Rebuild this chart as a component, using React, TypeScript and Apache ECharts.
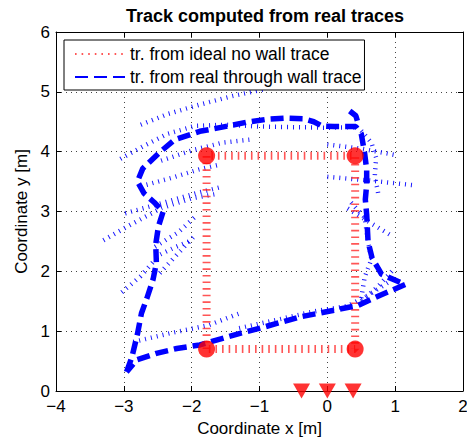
import React, { useEffect, useRef } from 'react';
import * as echarts from 'echarts';

const chartTitle = 'Track computed from real traces';
const xAxisName = 'Coordinate x [m]';
const yAxisName = 'Coordinate y [m]';
const idealName = 'tr. from ideal no wall trace';
const realName = 'tr. from real through wall trace';

const xRange = [-4, 2];
const yRange = [0, 6];

const idealTrack = [[-1.78, 0.7], [-1.78, 3.93], [0.41, 3.93], [0.41, 0.7], [-1.78, 0.7]];
const idealCorners = [[-1.78, 3.93], [0.41, 3.93], [-1.78, 0.7], [0.41, 0.7]];
const antennas = [[-0.38, 0], [0, 0], [0.38, 0]];

const realTrack = [
  [-2.96, 0.32], [-2.88, 0.57], [-2.8, 0.95], [-2.74, 1.3], [-2.66, 1.55], [-2.57, 1.86],
  [-2.52, 2.14], [-2.53, 2.45], [-2.49, 2.75], [-2.42, 3.0], [-2.55, 3.15], [-2.7, 3.3],
  [-2.8, 3.5], [-2.72, 3.72], [-2.47, 3.99], [-2.25, 4.2], [-1.88, 4.34], [-1.55, 4.41],
  [-1.2, 4.49], [-0.9, 4.54], [-0.6, 4.56], [-0.35, 4.55], [-0.2, 4.5], [-0.08, 4.43],
  [0.1, 4.42], [0.42, 4.42], [0.5, 4.3], [0.55, 3.97], [0.58, 3.7], [0.58, 3.45],
  [0.56, 3.2], [0.58, 2.95], [0.6, 2.5], [0.66, 2.22], [0.75, 2.05], [0.8, 1.95],
  [1.15, 1.78], [0.78, 1.6], [0.45, 1.43], [0.1, 1.35], [-0.4, 1.24], [-0.99, 1.05],
  [-1.3, 0.96], [-1.88, 0.77], [-2.22, 0.71], [-2.52, 0.63], [-2.81, 0.52], [-2.96, 0.32]
];
const realHook = [[0.33, 4.68], [0.42, 4.6], [0.46, 4.45]];

const trace1 = [[-2.75, 4.45], [-2.35, 4.63], [-1.9, 4.78], [-1.4, 4.93], [-0.9, 5.05]];
const trace2 = [[-3.05, 3.88], [-2.7, 4.1], [-2.35, 4.3], [-1.95, 4.43], [-1.5, 4.45], [-1.0, 4.42], [-0.5, 4.41], [0.0, 4.4], [0.4, 4.41]];
const trace3 = [[-2.45, 3.85], [-2.0, 4.02], [-1.55, 4.15], [-1.15, 4.2]];
const trace4 = [[-2.75, 3.42], [-2.3, 3.56], [-1.9, 3.7], [-1.6, 3.78]];
const trace5 = [[-3.3, 2.52], [-2.9, 2.78], [-2.44, 3.06], [-2.0, 3.22], [-1.6, 3.3]];
const trace6 = [[-2.98, 2.97], [-2.5, 3.12], [-1.95, 3.3], [-1.56, 3.41]];
const trace7 = [[-2.54, 2.41], [-2.2, 2.65], [-1.95, 2.91]];
const trace8 = [[-2.54, 2.24], [-2.25, 2.4], [-2.0, 2.52]];
const trace9 = [[-3.03, 1.65], [-2.75, 1.92], [-2.54, 2.19]];
const trace10 = [[-2.47, 1.97], [-2.2, 2.3], [-1.95, 2.6]];
const trace11 = [[-2.86, 0.82], [-2.3, 0.97], [-1.75, 1.1], [-1.29, 1.3]];
const trace12 = [[-1.3, 1.05], [-0.7, 1.2], [-0.2, 1.33], [0.3, 1.42], [0.6, 1.6], [0.95, 1.85]];
const trace13 = [[0.0, 4.12], [0.5, 4.05], [1.02, 3.94]];
const trace14 = [[0.0, 3.58], [0.6, 3.52], [1.27, 3.44]];
const trace15 = [[0.3, 3.05], [0.65, 2.8], [0.97, 2.58]];
const trace16 = [[0.5, 4.35], [0.65, 4.15], [0.72, 3.9], [0.7, 3.6], [0.75, 3.3]];
const trace17 = [[0.35, 3.15], [0.55, 2.9], [0.6, 2.5], [0.65, 2.2], [0.55, 1.9], [0.5, 1.55]];
const trace18 = [[0.5, 1.5], [0.75, 1.75], [0.95, 2.0]];
const thinTraces = [trace1, trace2, trace3, trace4, trace5, trace6, trace7, trace8, trace9,
  trace10, trace11, trace12, trace13, trace14, trace15, trace16, trace17, trace18];

const FONT = 'Liberation Sans, Arial, Helvetica, sans-serif';

export default function App() {
  const ref = useRef<HTMLDivElement>(null);
  useEffect(() => {
    if (!ref.current) return;
    const chart = echarts.init(ref.current, undefined, { renderer: 'svg' });
    const fmt = (v: number) => String(v).replace('-', '\u2212');
    const baseAxis = {
      interval: 1,
      axisLine: { show: true, onZero: false, lineStyle: { color: '#000', width: 1 } },
      axisTick: { show: true, inside: true, length: 5, lineStyle: { color: '#000' } },
    };
    const thinSeries = thinTraces.map((t) => ({
      type: 'line',
      data: t,
      symbol: 'none',
      silent: true,
      z: 2,
      lineStyle: { color: '#0000ff', width: 4.5, type: [1, 5], cap: 'butt', opacity: 0.9 },
    }));
    chart.setOption({
      animation: false,
      backgroundColor: '#fff',
      title: {
        text: chartTitle,
        left: 260,
        textAlign: 'center',
        top: 2,
        textStyle: { fontFamily: FONT, fontSize: 18, fontWeight: 'bold', color: '#000' },
      },
      grid: { left: 56, right: 4, top: 32, bottom: 47, outerBoundsMode: 'none', containLabel: false },
      legend: {
        data: [idealName, realName],
        left: 64,
        top: 40,
        orient: 'vertical',
        backgroundColor: '#fff',
        borderColor: '#000',
        borderWidth: 1,
        borderRadius: 0,
        padding: [5, 3, 4, 10],
        itemWidth: 50,
        itemHeight: 14,
        itemGap: 5,
        itemStyle: { opacity: 0 },
        textStyle: { fontFamily: FONT, fontSize: 17.5, color: '#000' },
        z: 10,
      },
      xAxis: [
        {
          ...baseAxis,
          type: 'value',
          min: xRange[0],
          max: xRange[1],
          name: xAxisName,
          nameLocation: 'middle',
          nameGap: 28,
          nameTextStyle: { fontFamily: FONT, fontSize: 17, color: '#000' },
          axisLabel: { fontFamily: FONT, fontSize: 17, color: '#000', margin: 7, formatter: fmt },
          splitLine: { show: true, lineStyle: { color: '#444', width: 1, type: [1, 4] } },
        },
        {
          ...baseAxis,
          type: 'value',
          position: 'top',
          min: xRange[0],
          max: xRange[1],
          axisLabel: { show: false },
          splitLine: { show: false },
        },
      ],
      yAxis: [
        {
          ...baseAxis,
          type: 'value',
          min: yRange[0],
          max: yRange[1],
          name: yAxisName,
          nameLocation: 'middle',
          nameGap: 19,
          nameTextStyle: { fontFamily: FONT, fontSize: 17, color: '#000' },
          axisLabel: { fontFamily: FONT, fontSize: 17, color: '#000', margin: 6, formatter: fmt },
          splitLine: { show: true, lineStyle: { color: '#444', width: 1, type: [1, 4] } },
        },
        {
          ...baseAxis,
          type: 'value',
          position: 'right',
          min: yRange[0],
          max: yRange[1],
          axisLabel: { show: false },
          splitLine: { show: false },
        },
      ],
      series: [
        ...thinSeries,
        {
          name: idealName,
          type: 'line',
          data: idealTrack,
          symbol: 'none',
          z: 3,
          lineStyle: { color: '#ff2a2a', width: 8, type: [1.6, 5], cap: 'butt', opacity: 0.8 },
          itemStyle: { color: '#ff2a2a' },
        },
        {
          name: realName,
          type: 'line',
          data: realTrack,
          symbol: 'none',
          z: 4,
          lineStyle: { color: '#0000ff', width: 5.5, type: [13, 6], cap: 'butt' },
          itemStyle: { color: '#0000ff' },
        },
        {
          type: 'line',
          data: realHook,
          symbol: 'none',
          z: 4,
          lineStyle: { color: '#0000ff', width: 5.5, type: [13, 6], cap: 'butt' },
        },
        {
          type: 'scatter',
          data: idealCorners,
          symbol: 'circle',
          symbolSize: 17,
          z: 5,
          itemStyle: { color: '#ff0000' },
        },
        {
          type: 'scatter',
          data: antennas,
          symbol: 'triangle',
          symbolRotate: 180,
          symbolSize: [17, 15],
          clip: false,
          z: 6,
          itemStyle: { color: '#ff0000' },
        },
      ],
    });
    return () => chart.dispose();
  }, []);
  return <div ref={ref} style={{ position: 'fixed', left: 0, top: 0, width: 467, height: 438 }} />;
}
